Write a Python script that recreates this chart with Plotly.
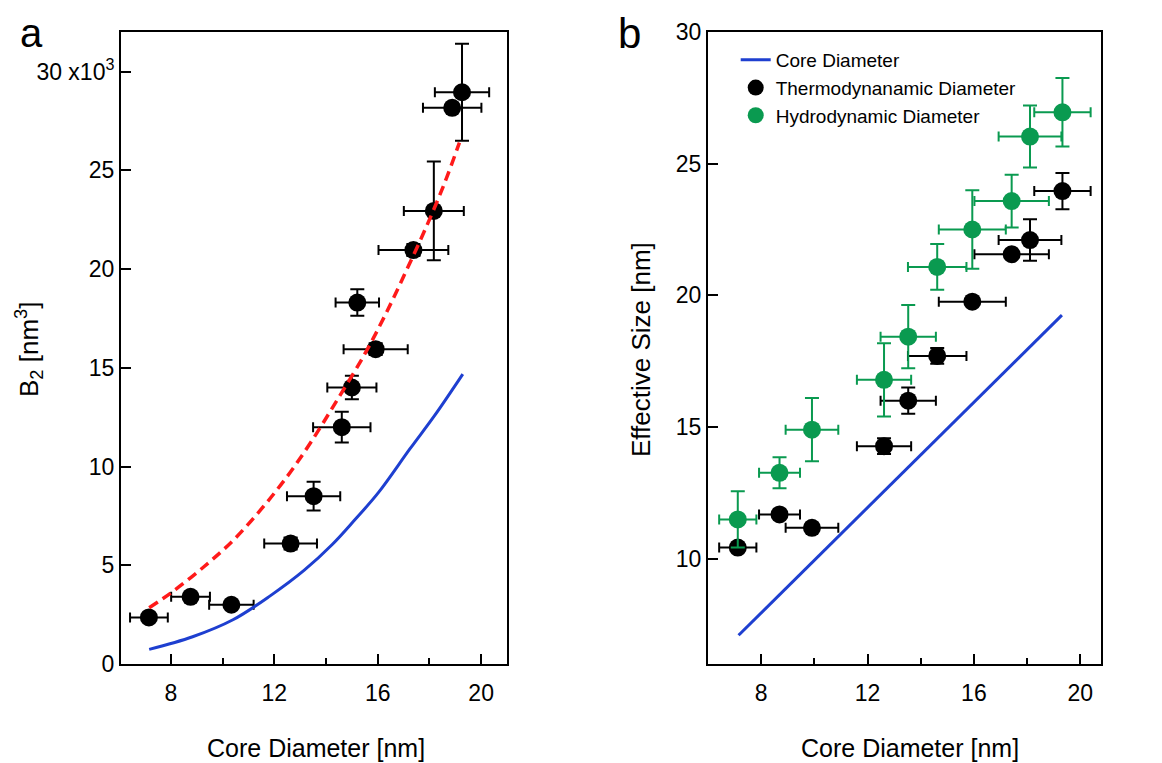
import plotly.graph_objects as go

# ---------------- Panel a data ----------------
a_core = [7.15, 8.76, 10.34, 12.63, 13.52, 14.61, 15.0, 15.92, 15.21, 17.38, 18.17, 18.88, 19.26]
a_core_err = [0.73, 0.75, 0.86, 1.02, 1.03, 1.11, 0.95, 1.24, 0.84, 1.35, 1.16, 1.13, 1.05]
a_b2 = [2.36, 3.4, 3.0, 6.1, 8.5, 11.99, 14.0, 15.94, 18.3, 20.96, 22.94, 28.16, 28.95]
a_b2_err = [0.0, 0.0, 0.0, 0.3, 0.73, 0.78, 0.6, 0.3, 0.67, 0.3, 2.5, 0.0, 2.45]

# red dashed fit
fit_x = [7.16, 8.0, 9.3, 10.4, 11.5, 12.5, 13.4, 14.4, 15.5, 16.3, 17.1, 17.9, 18.6, 19.16]
fit_y = [2.85, 3.6, 4.95, 6.25, 7.85, 9.5, 11.2, 13.3, 15.7, 17.7, 19.9, 22.2, 24.4, 26.4]

# blue solid core curve
core_x = [7.16, 8.84, 10.4, 11.84, 13.16, 14.24, 15.08, 16.04, 17.25, 18.21, 19.29]
core_y = [0.74, 1.38, 2.24, 3.45, 4.75, 6.05, 7.25, 8.7, 10.9, 12.6, 14.68]

# ---------------- Panel b data ----------------
b_core = [7.12, 8.69, 9.91, 12.62, 13.53, 14.62, 15.94, 17.42, 18.11, 19.33]
b_core_err = [0.7, 0.77, 0.99, 1.02, 1.04, 1.1, 1.26, 1.4, 1.18, 1.06]
thermo = [10.42, 11.68, 11.17, 14.27, 16.0, 17.7, 19.76, 21.56, 22.1, 23.96]
thermo_err = [0.0, 0.0, 0.0, 0.3, 0.5, 0.3, 0.0, 0.0, 0.79, 0.69]
hydro = [11.49, 13.26, 14.9, 16.79, 18.43, 21.08, 22.5, 23.58, 26.03, 26.95]
hydro_err = [1.07, 0.59, 1.2, 1.39, 1.2, 0.87, 1.49, 1.0, 1.18, 1.3]
line_x = [7.15, 19.31]
line_y = [7.09, 19.25]

BLACK = "#000000"
GREEN = "#0a9a50"
BLUE = "#1e3fd0"
RED = "#ff1a1a"
FONT = "Liberation Sans, Arial, sans-serif"

fig = go.Figure()

# Panel a
fig.add_trace(go.Scatter(
    x=a_core, y=a_b2, mode="markers", showlegend=False,
    marker=dict(color=BLACK, size=18),
    error_x=dict(type="data", array=a_core_err, color=BLACK, thickness=2, width=5),
    error_y=dict(type="data", array=a_b2_err, color=BLACK, thickness=2, width=7),
    xaxis="x", yaxis="y"))
fig.add_trace(go.Scatter(
    x=fit_x, y=fit_y, mode="lines", showlegend=False, line_shape="spline",
    line=dict(color=RED, width=3.5, dash="10px,6px"), xaxis="x", yaxis="y"))
fig.add_trace(go.Scatter(
    x=core_x, y=core_y, mode="lines", showlegend=False, line_shape="spline",
    line=dict(color=BLUE, width=3), xaxis="x", yaxis="y"))

# Panel b
fig.add_trace(go.Scatter(
    x=line_x, y=line_y, mode="lines", name="Core Diameter",
    line=dict(color=BLUE, width=3), xaxis="x2", yaxis="y2"))
fig.add_trace(go.Scatter(
    x=b_core, y=thermo, mode="markers", name="Thermodynanamic Diameter",
    marker=dict(color=BLACK, size=18),
    error_x=dict(type="data", array=b_core_err, color=BLACK, thickness=2, width=5),
    error_y=dict(type="data", array=thermo_err, color=BLACK, thickness=2, width=7),
    xaxis="x2", yaxis="y2"))
fig.add_trace(go.Scatter(
    x=b_core, y=hydro, mode="markers", name="Hydrodynamic Diameter",
    marker=dict(color=GREEN, size=18),
    error_x=dict(type="data", array=b_core_err, color=GREEN, thickness=2, width=5),
    error_y=dict(type="data", array=hydro_err, color=GREEN, thickness=2, width=7),
    xaxis="x2", yaxis="y2"))

W, H = 1162, 763
OFF = 8  # page body margin offset


def px(v):
    return (v - OFF) / W


def py(v):
    return 1 - (v - OFF) / H


ydom = [py(664), py(32)]

axis_common = dict(showline=True, linecolor=BLACK, linewidth=2, mirror=True,
                   ticks="inside", ticklen=10, tickwidth=2, tickcolor=BLACK,
                   showgrid=False, zeroline=False, automargin=False,
                   tickfont=dict(family=FONT, size=23, color=BLACK))
minor_x = dict(ticks="inside", ticklen=6, tickwidth=2, tickcolor=BLACK, tickvals=[10, 14, 18])

xticks = [8, 12, 16, 20]


def ann(text, x, y, size, angle=0):
    return dict(text=text, x=px(x), y=py(y), xref="paper", yref="paper",
                xanchor="center", yanchor="middle", textangle=angle,
                showarrow=False, font=dict(family=FONT, size=size, color=BLACK))


fig.update_layout(
    width=W, height=H, paper_bgcolor="white", plot_bgcolor="white",
    margin=dict(l=0, r=0, t=0, b=0, pad=0),
    font=dict(family=FONT, color=BLACK),
    xaxis=dict(domain=[px(121), px(507)], range=[6.07, 21.0], anchor="y",
               tickvals=xticks, ticktext=[str(v) for v in xticks],
               ticklabelstandoff=7, minor=minor_x, **axis_common),
    yaxis=dict(domain=ydom, range=[0, 32], anchor="x",
               tickvals=[0, 5, 10, 15, 20, 25, 30],
               ticktext=["0", "5", "10", "15", "20", "25", "30 x10<sup>3</sup>"],
               **axis_common),
    xaxis2=dict(domain=[px(708), px(1101)], range=[6.0, 20.78], anchor="y2",
                tickvals=xticks, ticktext=[str(v) for v in xticks],
                ticklabelstandoff=7, minor=minor_x, **axis_common),
    yaxis2=dict(domain=ydom, range=[6.0, 30.0], anchor="x2",
                tickvals=[10, 15, 20, 25, 30],
                **axis_common),
    legend=dict(x=px(735.7), y=py(41), xanchor="left", yanchor="top",
                bgcolor="rgba(0,0,0,0)", font=dict(family=FONT, size=19, color=BLACK),
                itemwidth=30, tracegroupgap=0),
    annotations=[
        ann("a", 31.5, 33, 40),
        ann("b", 629, 34, 42),
        ann("Core Diameter [nm]", 316, 748, 25),
        ann("Core Diameter [nm]", 910, 748, 25),
        ann("B<sub>2</sub> [nm<sup>3</sup>]", 29, 350, 26, -90),
        ann("Effective Size [nm]", 641, 350, 26, -90),
    ],
)

fig.write_html("out.html")
